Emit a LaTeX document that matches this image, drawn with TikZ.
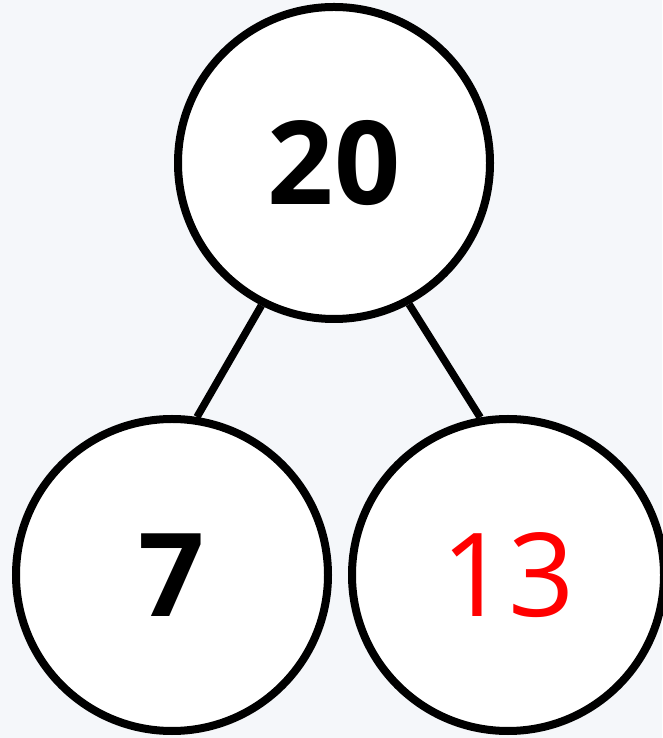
\documentclass[tikz,border=0pt]{standalone}
\usepackage{fontspec}
\setmainfont{Open Sans}[BoldFont={Open Sans Bold}]
\usetikzlibrary{positioning}
\definecolor{bgpale}{HTML}{F5F7FA}
\definecolor{hotred}{HTML}{FF0000}

\begin{document}
\begin{tikzpicture}[x=1pt,y=1pt,
    numnode/.style={circle,draw=black,fill=white,line width=8pt,minimum size=312pt,inner sep=0pt,font=\fontsize{116}{116}\selectfont},
    boldnum/.style={numnode,font=\fontsize{116}{116}\selectfont\bfseries},
    edge/.style={draw=black,line width=7.5pt}]
    \fill[bgpale] (0,0) rectangle (662,738);
    \useasboundingbox (0,0) rectangle (662,738);
    \node[boldnum] (root) at (334,575){20};
    \node[boldnum] (lft) at (172,163){7};
    \node[numnode,text=hotred] (rgt) at (508,163){13};
    \draw[edge] (root.-117) -- (lft.81);
    \draw[edge] (root.-62) -- (rgt.100);
  \end{tikzpicture}
\end{document}
